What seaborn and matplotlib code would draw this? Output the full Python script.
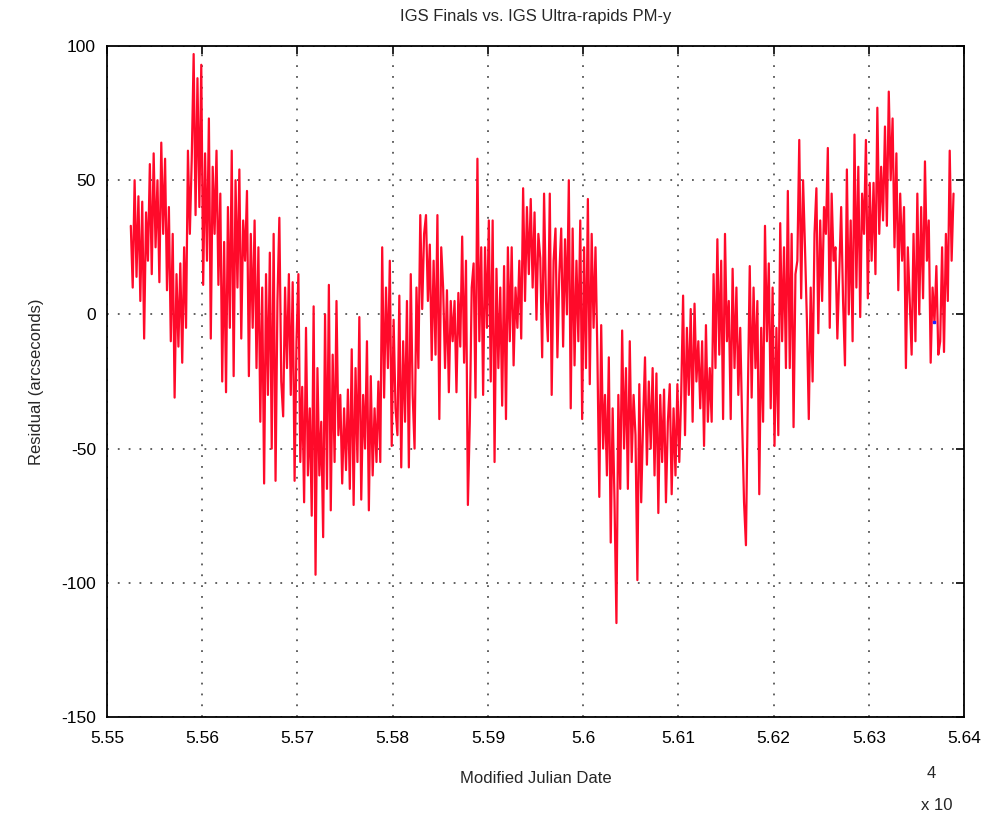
import numpy as np
import pandas as pd
import seaborn as sns
import matplotlib.pyplot as plt
from matplotlib.ticker import FuncFormatter, MultipleLocator

mjd = np.arange(55525, 56390, 2)
residual = [
    33, 10, 50, 14, 44,   5, 42, -9, 38, 20,   56, 15, 60, 25, 50,   12, 64, 30, 58, 9,
    40, -10, 30, -31, 15,   -12, 19, -18, 25, -5,   61, 30, 58, 97, 37,   88, 40, 93, 11, 60,
    20, 73, -9, 55, 30,   61, 11, 45, -25, 27,   -29, 40, -5, 61, -23,   50, 10, 54, -9, 35,
    20, 46, -23, 30, -5,   35, -20, 25, -40, 10,   -63, 15, -30, 23, -50,   30, -62, 5, 36, -25,
    -38, 10, -20, 15, -30,   12, -62, -10, 15, -55,   -27, -70, -5, -60, -35,   -75, 3, -97, -20, -60,
    -40, -83, 0, -65, 11,   -73, -15, -55, 5, -45,   -30, -63, -35, -58, -28,   -65, -13, -71, -20, -55,
    -1, -69, -30, -50, -10,   -73, -23, -60, -35, -55,   -25, -55, 25, -31, 10,   -20, 20, -49, -2, -35,
    -45, 7, -57, -10, -40,   5, -57, 15, -30, -50,   10, -20, 37, 2, 30,   37, 5, 26, -17, 20,
    -15, 37, -39, 25, 10,   -20, 9, -29, 5, -10,   5, -29, 8, -12, 29,   -18, 20, -71, -40, 10,
    19, -31, 58, -10, 25,   -30, 25, -5, 35, -25,   35, -55, 17, -20, 10,   -34, 18, -39, 25, -10,
    25, -19, 10, -5, 20,   -9, 47, 5, 40, 15,   43, 10, 38, -2, 30,   21, -16, 45, 5, -10,
    45, -30, 20, 32, -16,   15, 32, -12, 28, 0,   50, -35, 32, -19, 20,   -10, 35, -39, 25, -20,
    43, -26, 30, -5, 25,   -15, -68, -4, -50, -30,   -60, -16, -85, -35, -70,   -115, -30, -65, -6, -50,
    -20, -65, -10, -55, -30,   -45, -99, -26, -70, -40,   -16, -56, -25, -50, -20,   -60, -22, -74, -30, -55,
    -28, -70, -40, -26, -67,   -35, -60, -26, -55, -30,   7, -45, -5, -30, 2,   -40, 4, -25, -10, -35,
    -10, -49, -4, -40, -20,   -40, 15, -20, 28, -15,   20, -39, 30, -10, 5,   -39, 17, -20, 10, -30,
    -5, -40, -70, -86, -30,   18, -31, 10, -20, 5,   -67, -5, -40, 33, -10,   19, -35, 10, -49, -5,
    -45, 34, -10, 25, -20,   46, -20, 30, -42, 15,   20, 65, 6, 50, 25,   -2, -39, 10, -25, 30,
    47, -7, 35, 5, 40,   30, 62, -5, 45, 20,   25, -9, 15, 40, 5,   -19, 54, 0, 35, -10,
    67, 10, 55, -1, 45,   30, 65, 6, 49, 20,   49, 15, 77, 30, 55,   35, 70, 33, 83, 50,
    73, 25, 60, 9, 45,   20, 40, -20, 25, 5,   -15, 30, -10, 45, 0,   40, 6, 57, 20, 35,
    -18, 10, -3, 18, -15,   -10, 25, -14, 30, 5,   61, 20, 45,
]
blue_mjd = [56369]
blue_val = [-3]

data = pd.DataFrame({"mjd": mjd, "residual": residual})

sns.set_style("white")
plt.rcParams["font.family"] = ["Liberation Sans Narrow", "Liberation Sans", "DejaVu Sans"]
plt.rcParams["axes.unicode_minus"] = False

fig = plt.figure(figsize=(9.99, 8.19), dpi=100)
ax = fig.add_axes([107 / 999, 1 - 717 / 819, (964 - 107) / 999, (717 - 46) / 819])

sns.lineplot(data=data, x="mjd", y="residual", color="#ff0a2a", linewidth=1.6,
             estimator=None, ax=ax)
ax.plot(blue_mjd, blue_val, marker="s", markersize=2, color="#2020ff", linestyle="none")

ax.set_xlim(55500, 56400)
ax.set_ylim(-150, 100)
ax.xaxis.set_major_locator(MultipleLocator(100))
ax.yaxis.set_major_locator(MultipleLocator(50))
ax.xaxis.set_major_formatter(FuncFormatter(lambda v, p: f"{v / 1e4:g}"))

ax.grid(True, color="#555555", linestyle=(0, (1, 5)), linewidth=1.3)
for s in ax.spines.values():
    s.set_color("black")
    s.set_linewidth(1.3)
ax.tick_params(direction="in", length=6, width=1.2, top=True, right=True,
               labelsize=12.5, colors="black")
ax.tick_params(axis="x", pad=10)
ax.tick_params(axis="y", pad=8)

ax.set_title("IGS Finals vs. IGS Ultra-rapids PM-y", fontsize=12, pad=18)
ax.set_xlabel("Modified Julian Date", fontsize=12, labelpad=18)
ax.set_ylabel("Residual (arcseconds)", fontsize=12, labelpad=12)

fig.text(931 / 999, 1 - 773 / 819, "4", fontsize=12, ha="center", va="center")
fig.text(937 / 999, 1 - 806 / 819, "x 10", fontsize=12, ha="center", va="center")

fig.savefig("out.png", dpi=100, facecolor="white")
